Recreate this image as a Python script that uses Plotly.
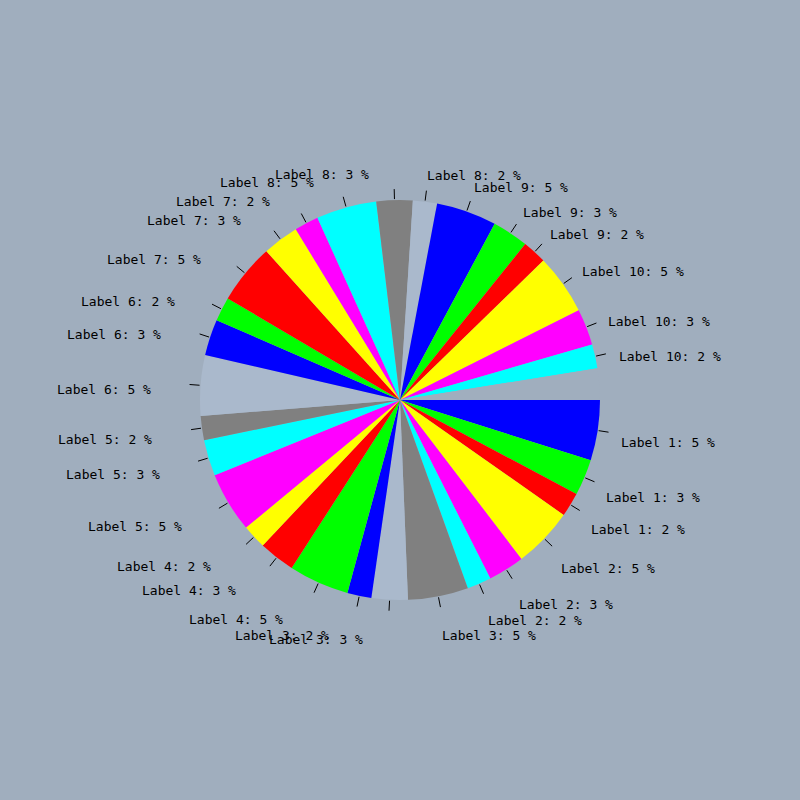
import math
import plotly.graph_objects as go

# ---- data ----
labels = [f"Label {i}" for i in range(1, 11) for _ in range(3)]
values = [5, 3, 2] * 10
gap_value = 2.6  # unfilled part of the circle (drawn in background colour)
palette = ["#0000FF", "#00FF00", "#FF0000", "#FFFF00", "#FF00FF",
           "#00FFFF", "#808080", "#AAB9CC"]
bg = "#A0AEBE"

colors = [palette[i % len(palette)] for i in range(len(values))]
texts = [f"{l}: {v} %" for l, v in zip(labels, values)]

W = H = 800
cx, cy, R = 400, 400, 200

fig = go.Figure()
fig.add_trace(go.Pie(
    values=values + [gap_value],
    labels=[f"s{i}" for i in range(len(values))] + ["gap"],
    marker=dict(colors=colors + [bg], line=dict(width=0)),
    sort=False, direction="clockwise", rotation=90,
    textinfo="none", hoverinfo="skip", showlegend=False,
    domain=dict(x=[0.25, 0.75], y=[0.25, 0.75]),
))

total = sum(values) + gap_value
tx, ty = [], []
annotations = []
cum = 0.0
for v, t in zip(values, texts):
    mid = (cum + v / 2) / total * 2 * math.pi  # clockwise from east
    cum += v
    c, s = math.cos(mid), math.sin(mid)
    tx += [cx + (R + 1) * c, cx + (R + 11) * c, None]
    ty += [cy + (R + 1) * s, cy + (R + 11) * s, None]
    px = cx + 225 * c
    py = cy + 225 * s + 7 + 8 * s
    if c >= 0:
        annotations.append(dict(x=px - 3, y=py, text=t, xanchor="left", yanchor="middle",
                                showarrow=False, xref="x", yref="y"))
    else:
        annotations.append(dict(x=px - 23, y=py, text=t, xanchor="right", yanchor="middle",
                                showarrow=False, xref="x", yref="y"))

fig.add_trace(go.Scatter(x=tx, y=ty, mode="lines", line=dict(color="black", width=1),
                         hoverinfo="skip", showlegend=False))

fig.update_layout(
    width=W, height=H, margin=dict(l=0, r=0, t=0, b=0),
    paper_bgcolor=bg, plot_bgcolor="rgba(0,0,0,0)",
    font=dict(family="DejaVu Sans Mono", size=13, color="black"),
    xaxis=dict(range=[0, W], visible=False, fixedrange=True),
    yaxis=dict(range=[H, 0], visible=False, fixedrange=True),
    annotations=annotations, showlegend=False,
)
fig.write_html("out.html")
